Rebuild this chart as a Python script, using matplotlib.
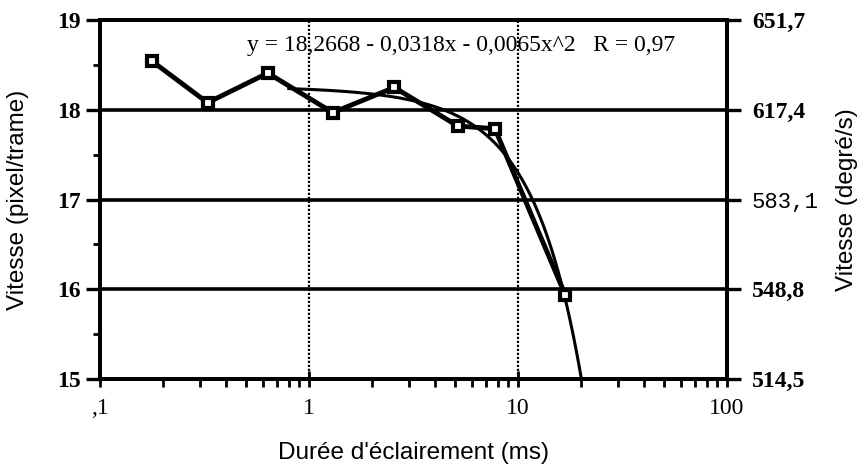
import numpy as np
import matplotlib
matplotlib.use('Agg')
import matplotlib.pyplot as plt
from matplotlib.ticker import FixedLocator, NullFormatter

# data
duree = [0.178, 0.327, 0.635, 1.30, 2.56, 5.15, 7.75, 16.8]
vitesse = [18.54, 18.08, 18.41, 17.97, 18.25, 17.82, 17.79, 15.94]

# quadratic fit printed on the chart
fit_coef = [18.2668, -0.0318, -0.0065]
fit_range = [0.8, 20.5]
fit_label = "y = 18,2668 - 0,0318x - 0,0065x^2   R = 0,97"

x_ticks = [0.1, 1, 10, 100]
x_labels = [",1", "1", "10", "100"]
y_ticks = [15, 16, 17, 18, 19]
y_grid = [16, 17, 18]
x_grid = [1, 10]
right_labels = ["514,5", "548,8", "583,1", "617,4", "651,7"]

serif = 'Liberation Serif'
sans = 'Liberation Sans'

fig = plt.figure(figsize=(8.66, 4.69), dpi=100)
ax = fig.add_axes([0.1155, 0.192, 0.724, 0.765])

ax.set_xscale('log')
ax.set_xlim(0.1, 100)
ax.set_ylim(15, 19)

for g in y_grid:
    ax.axhline(g, color='black', lw=2.6, zorder=1)
for g in x_grid:
    ax.axvline(g, color='black', lw=1.6, ls=(0, (1, 0.8)), zorder=1)

# fit curve
xf = np.geomspace(fit_range[0], fit_range[1], 200)
yf = fit_coef[0] + fit_coef[1] * xf + fit_coef[2] * xf ** 2
ax.plot(xf, yf, color='black', lw=2.2, zorder=2)

# measured points
ax.plot(duree, vitesse, color='black', lw=3.5, marker='s', ms=7,
        mfc='white', mec='black', mew=3, zorder=3)

ax.text(0.234, 0.93, fit_label, transform=ax.transAxes, fontsize=17,
        family=serif, va='center', ha='left')

for s in ax.spines.values():
    s.set_linewidth(2.8)

ax.xaxis.set_major_locator(FixedLocator(x_ticks))
ax.set_xticklabels(x_labels, family=serif, fontsize=17)
ax.xaxis.set_minor_formatter(NullFormatter())
ax.tick_params(axis='x', which='major', direction='inout', length=12, width=2, pad=8)
ax.tick_params(axis='x', which='minor', direction='out', length=6, width=2)

ax.yaxis.set_major_locator(FixedLocator(y_ticks))
ax.yaxis.set_minor_locator(FixedLocator([15.5, 16.5, 17.5, 18.5]))
ax.set_yticklabels([str(v) for v in y_ticks], family=serif, fontsize=17, weight='bold')
ax.tick_params(axis='y', which='major', direction='out', length=10, width=2.4, pad=4)
ax.tick_params(axis='y', which='minor', direction='out', length=5, width=2)

ax.set_xlabel("Durée d'éclairement (ms)", family=sans, fontsize=17.5, labelpad=16)
ax.set_ylabel("Vitesse (pixel/trame)", family=sans, fontsize=17.5, labelpad=20)

ax2 = ax.twinx()
ax2.set_ylim(15, 19)
ax2.yaxis.set_major_locator(FixedLocator(y_ticks))
ax2.set_yticklabels(right_labels, family=serif, fontsize=17, weight='bold')
for t in ax2.get_yticklabels():
    if t.get_text() == "583,1":
        t.set_family('Liberation Mono')
        t.set_weight('normal')
        t.set_fontsize(16)
ax2.tick_params(axis='y', direction='out', length=10, width=2.4, pad=8)
ax2.set_ylabel("Vitesse (degré/s)", family=sans, fontsize=17.5, labelpad=12)
for s in ax2.spines.values():
    s.set_linewidth(2.8)

fig.savefig('out.png', dpi=100)
